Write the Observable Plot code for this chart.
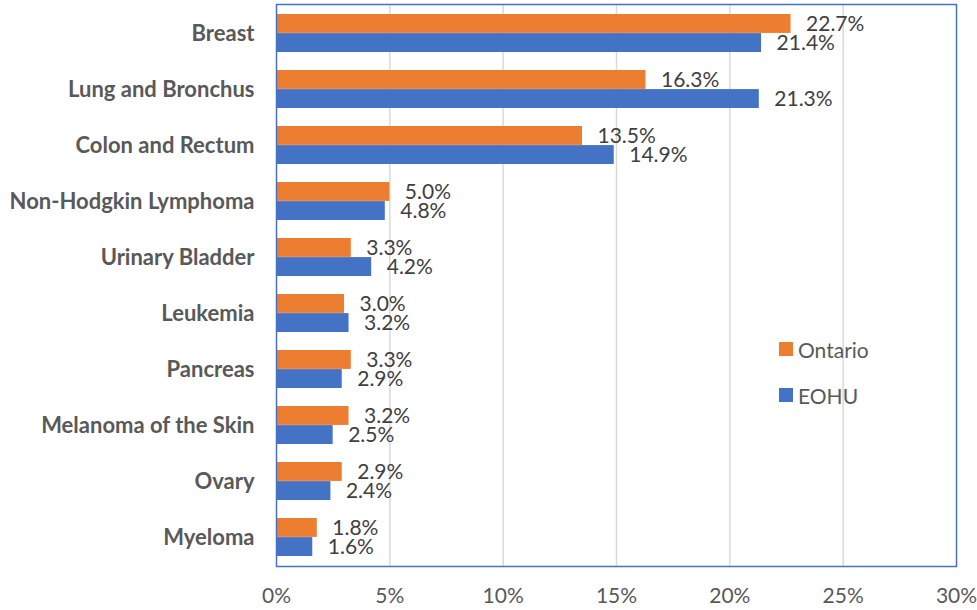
<!DOCTYPE html>
<html>
<head>
<meta charset="utf-8">
<script src="https://cdn.jsdelivr.net/npm/d3@7"></script>
<script src="https://cdn.jsdelivr.net/npm/@observablehq/plot@0.6"></script>
<style>
  html, body { margin: 0; padding: 0; background: #fff; }
  #wrap { position: relative; width: 977px; height: 610px; font-family: Lato, "Open Sans", sans-serif; }
  #legend { position: absolute; left: 779px; top: 338px; font-size: 21px; color: #595959; }
  #legend .item { display: flex; align-items: center; height: 22px; margin-bottom: 24px; }
  #legend .sw { width: 14px; height: 14px; margin-right: 5px; }
</style>
</head>
<body>
<div id="wrap"></div>
<script>
const categories = ["Breast", "Lung and Bronchus", "Colon and Rectum", "Non-Hodgkin Lymphoma", "Urinary Bladder", "Leukemia", "Pancreas", "Melanoma of the Skin", "Ovary", "Myeloma"];
const ontario = [22.7, 16.3, 13.5, 5.0, 3.3, 3.0, 3.3, 3.2, 2.9, 1.8];
const eohu = [21.4, 21.3, 14.9, 4.8, 4.2, 3.2, 2.9, 2.5, 2.4, 1.6];
const series = ["Ontario", "EOHU"];
const colors = ["#ED7D31", "#4472C4"];
const xTicks = [0, 5, 10, 15, 20, 25, 30];

const ontRows = categories.map((c, i) => ({category: c, value: ontario[i]}));
const eohuRows = categories.map((c, i) => ({category: c, value: eohu[i]}));
const fmt = d => d.value.toFixed(1) + "%";

const chart = Plot.plot({
  width: 977,
  height: 610,
  marginLeft: 276,
  marginRight: 21,
  marginTop: 4,
  marginBottom: 44,
  style: {fontFamily: "Lato, 'Open Sans', sans-serif", color: "#595959", background: "#fff"},
  x: {domain: [0, 30]},
  y: {domain: categories, paddingInner: 0.32, paddingOuter: 0.16},
  marks: [
    Plot.ruleX(xTicks.slice(1, -1), {stroke: "#d9d9d9", strokeWidth: 1.5}),
    Plot.barX(ontRows, {x: "value", y: "category", fill: colors[0], insetBottom: 19.1}),
    Plot.barX(eohuRows, {x: "value", y: "category", fill: colors[1], insetTop: 19.1}),
    Plot.text(ontRows, {x: "value", y: "category", text: fmt, dx: 15, dy: -9.5, textAnchor: "start", fontSize: 21, fill: "#404040"}),
    Plot.text(eohuRows, {x: "value", y: "category", text: fmt, dx: 15, dy: 9.5, textAnchor: "start", fontSize: 21, fill: "#404040"}),
    Plot.frame({stroke: "#4472C4", strokeWidth: 1.5}),
    Plot.axisX({ticks: xTicks, tickFormat: d => d + "%", tickSize: 0, tickPadding: 22, fontSize: 21, fill: "#595959", label: null}),
    Plot.axisY({tickSize: 0, tickPadding: 22, fontSize: 22, fontWeight: "bold", fill: "#595959", label: null})
  ]
});

const wrap = document.getElementById("wrap");
wrap.appendChild(chart);
const legend = document.createElement("div");
legend.id = "legend";
series.forEach((s, i) => {
  const item = document.createElement("div");
  item.className = "item";
  const sw = document.createElement("div");
  sw.className = "sw";
  sw.style.background = colors[i];
  const t = document.createElement("span");
  t.textContent = s;
  item.appendChild(sw);
  item.appendChild(t);
  legend.appendChild(item);
});
wrap.appendChild(legend);
</script>
</body>
</html>
